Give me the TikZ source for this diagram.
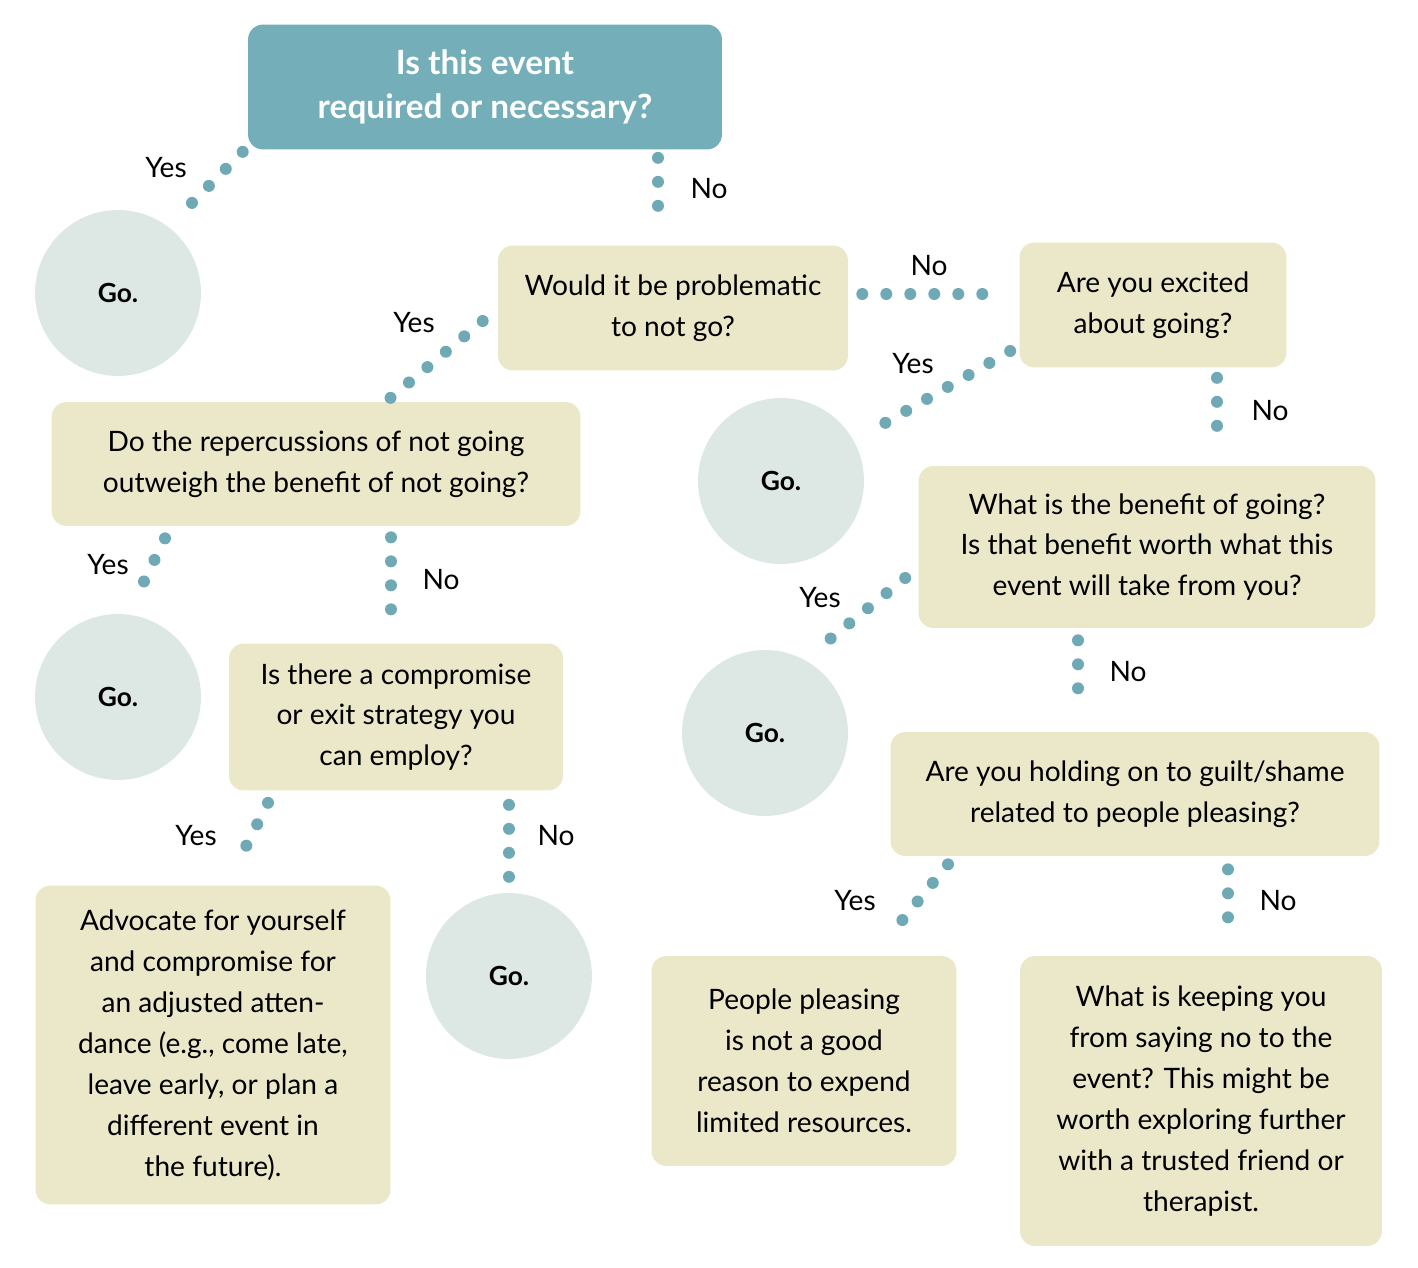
\documentclass[tikz,border=0pt]{standalone}
\usepackage{fontspec}
\setmainfont{Lato}
\usetikzlibrary{calc}
\definecolor{teal}{HTML}{74AEB8}
\definecolor{beige}{HTML}{EAE8C9}
\definecolor{mist}{HTML}{DDE8E5}
\definecolor{dotc}{HTML}{6FA9B5}
\tikzset{
  qbox/.style={fill=beige, rounded corners=0.3cm, align=center, inner sep=0pt,
    font=\fontsize{16}{23.3}\selectfont},
  gocirc/.style={circle, fill=mist, minimum size=3.32cm, inner sep=0pt,
    font=\fontsize{15}{18}\selectfont\bfseries},
  dots/.style={dotc, line width=0.24cm, line cap=round, dash pattern=on 0pt off 0.48cm},
  lbl/.style={font=\fontsize{16}{20}\selectfont}
}
\begin{document}
\begin{tikzpicture}[x=0.02cm, y=-0.02cm]
  \useasboundingbox (0,0) rectangle (1418,1268);

  % -------- questions --------
  \node[qbox, fill=teal, text=white, minimum width=9.48cm, minimum height=2.5cm,
    font=\fontsize{19}{25}\selectfont\bfseries] (top) at (485,87)
    {Is this event\\required or necessary?};
  \node[qbox, minimum width=7cm, minimum height=2.5cm] (prob) at (673,308)
    {Would it be problematic\\to not go?};
  \node[qbox, minimum width=5.34cm, minimum height=2.5cm] (excited) at (1153,305)
    {Are you excited\\about going?};
  \node[qbox, minimum width=10.58cm, minimum height=2.48cm] (repc) at (316,464)
    {Do the repercussions of not going\\outweigh the benefit of not going?};
  \node[qbox, minimum width=9.14cm, minimum height=3.24cm] (benefit) at (1147,547)
    {What is the benefit of going?\\Is that benefit worth what this\\event will take from you?};
  \node[qbox, minimum width=6.68cm, minimum height=2.94cm] (compr) at (396,717)
    {Is there a compromise\\or exit strategy you\\can employ?};
  \node[qbox, minimum width=9.78cm, minimum height=2.48cm] (guilt) at (1135,794)
    {Are you holding on to guilt/shame\\related to people pleasing?};

  % -------- answers --------
  \node[qbox, minimum width=7.1cm, minimum height=6.38cm] (advoc) at (213,1045)
    {Advocate for yourself\\and compromise for\\an adjusted atten-\\dance (e.g., come late,\\leave early, or plan a\\different event in\\the future).};
  \node[qbox, minimum width=6.1cm, minimum height=4.2cm] (please) at (804,1061)
    {People pleasing\\is not a good\\reason to expend\\limited resources.};
  \node[qbox, minimum width=7.24cm, minimum height=5.8cm] (keep) at (1201,1101)
    {What is keeping you\\from saying no to the\\event? This might be\\worth exploring further\\with a trusted friend or\\therapist.};

  % -------- go circles --------
  \node[gocirc] (goA) at (118,293) {Go.};
  \node[gocirc] (goB) at (781,481) {Go.};
  \node[gocirc] (goC) at (118,697) {Go.};
  \node[gocirc] (goD) at (765,733) {Go.};
  \node[gocirc] (goE) at (509,976) {Go.};

  % -------- connectors --------
  \draw[dots] ([shift={(-5,2)}]top.south west) -- ([shift={(58,-74)}]goA.center);
  \draw[dots] ([shift={(173,8)}]top.south) -- ([shift={(-15,-16)}]prob.north);
  \draw[dots] ([shift={(-15,13)}]prob.west) -- ([shift={(70,0)}]repc.north);
  \draw[dots] ([shift={(14,-14)}]prob.east) -- ([shift={(-15,-11)}]excited.west);
  \draw[dots] ([shift={(-9,46)}]excited.west) -- ([shift={(85,-47)}]goB.center);
  \draw[dots] ([shift={(64,10)}]excited.south) -- ([shift={(70,-16)}]benefit.north);
  \draw[dots] ([shift={(-151,12)}]repc.south) -- ([shift={(16,-95)}]goC.center);
  \draw[dots] ([shift={(75,11)}]repc.south) -- ([shift={(-5,-11)}]compr.north);
  \draw[dots] ([shift={(-13,31)}]benefit.west) -- ([shift={(49,-81)}]goD.center);
  \draw[dots] ([shift={(-69,12)}]benefit.south) -- ([shift={(-57,-20)}]guilt.north);
  \draw[dots] ([shift={(-128,12)}]compr.south) -- ([shift={(23,-19)}]advoc.north);
  \draw[dots] ([shift={(113,14)}]compr.south) -- ([shift={(0,-99)}]goE.center);
  \draw[dots] ([shift={(-187,8)}]guilt.south) -- ([shift={(84,-18)}]please.north);
  \draw[dots] ([shift={(93,13)}]guilt.south) -- ([shift={(27,-16)}]keep.north);

  % -------- labels --------
  \node[lbl] (l1) at (166,168) {Yes};
  \node[lbl] (l2) at (709,189) {No};
  \node[lbl] (l3) at (414,323) {Yes};
  \node[lbl] (l4) at (929,266) {No};
  \node[lbl] (l5) at (913,364) {Yes};
  \node[lbl] (l6) at (1270,411) {No};
  \node[lbl] (l7) at (108,565) {Yes};
  \node[lbl] (l8) at (441,580) {No};
  \node[lbl] (l9) at (820,598) {Yes};
  \node[lbl] (l10) at (1128,672) {No};
  \node[lbl] (l11) at (196,836) {Yes};
  \node[lbl] (l12) at (556,836) {No};
  \node[lbl] (l13) at (855,901) {Yes};
  \node[lbl] (l14) at (1278,901) {No};
\end{tikzpicture}
\end{document}
